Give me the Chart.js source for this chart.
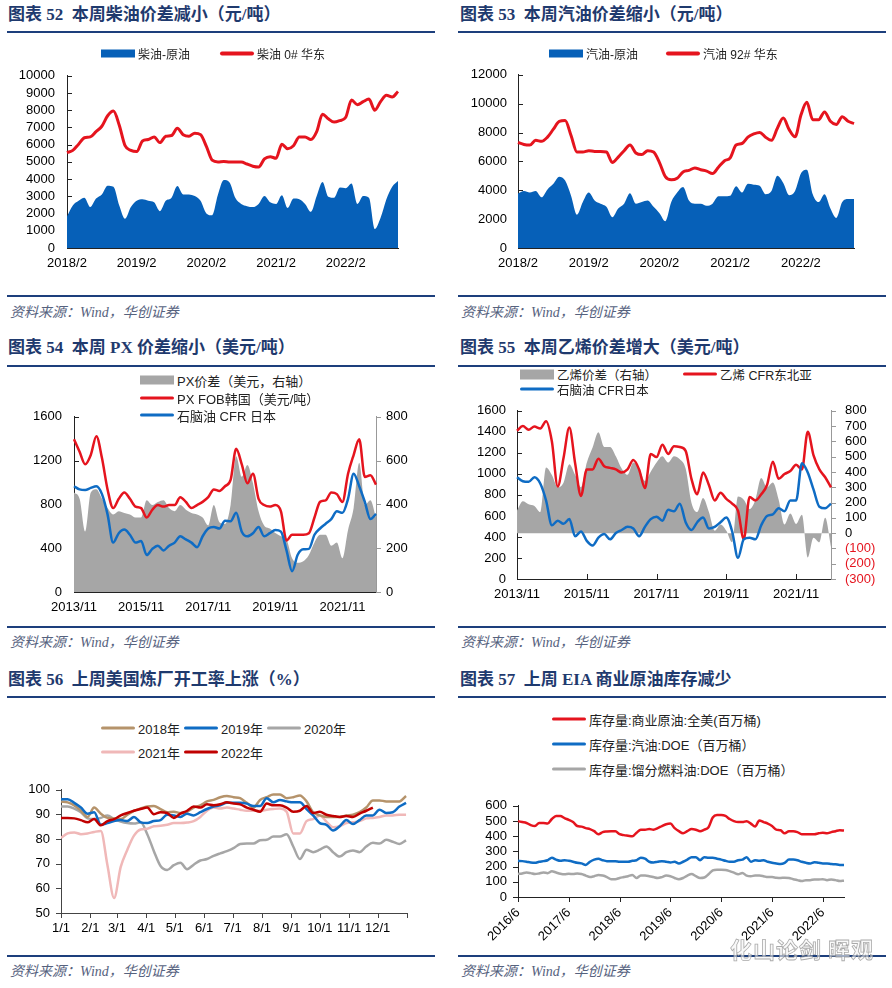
<!DOCTYPE html>
<html>
<head>
<meta charset="utf-8">
<script src="https://cdn.jsdelivr.net/npm/chart.js@4.4.1/dist/chart.umd.min.js"></script>
<style>
  body { margin: 0; background: #fff; }
  #page { position: relative; width: 892px; height: 988px; overflow: hidden; background: #fff; }
  #page canvas { position: absolute; }
  .ttl { position: absolute; font: bold 17px "Liberation Serif", "Noto Sans CJK SC", serif; color: #1f3a6e; line-height: 20px; white-space: nowrap; }
  .rule { position: absolute; height: 2px; background: #1d3f7c; }
  .src { position: absolute; font: italic 14px "Liberation Serif", "Noto Sans CJK SC", serif; color: #56627e; line-height: 18px; white-space: nowrap; }
  .lg { position: absolute; display: flex; align-items: center; transform: translateY(-50%); white-space: nowrap;
        font: 13px "Liberation Sans", "Noto Sans CJK SC", sans-serif; color: #222; z-index: 2; }
  .lg i { display: inline-block; width: 34px; margin-right: 3px; }
  .lg i.box { height: 8px; }
  .lg i.ln { height: 3px; border-radius: 2px; }
  .wm { position: absolute; left: 730px; top: 932px; font: bold 22px "Noto Sans CJK SC", sans-serif; color: rgba(245,245,245,0.6);
        -webkit-text-stroke: 0.8px rgba(150,150,150,0.8); white-space: nowrap; z-index: 3; letter-spacing: 1px; }
</style>
</head>
<body>
<div id="page">
  <!-- row 1 -->
  <div class="ttl" style="left:8px;top:5px">图表 52&nbsp; 本周柴油价差减小（元/吨）</div>
  <div class="ttl" style="left:460px;top:5px">图表 53&nbsp; 本周汽油价差缩小（元/吨）</div>
  <div class="rule" style="left:7px;width:428px;top:31px"></div>
  <div class="rule" style="left:458px;width:428px;top:31px"></div>
  <div class="lg" style="left:101px;top:53px;font-size:12px"><i class="box" style="background:#0660b8"></i>柴油-原油</div>
  <div class="lg" style="left:220px;top:53px;font-size:12px"><i class="ln" style="background:#e5141e;height:4px"></i>柴油 0# 华东</div>
  <div class="lg" style="left:549px;top:53px;font-size:12px"><i class="box" style="background:#0660b8"></i>汽油-原油</div>
  <div class="lg" style="left:666px;top:53px;font-size:12px"><i class="ln" style="background:#e5141e;height:4px"></i>汽油 92# 华东</div>
  <canvas id="c52" width="410" height="224" style="left:0;top:56px"></canvas>
  <canvas id="c53" width="420" height="224" style="left:446px;top:56px"></canvas>
  <div class="rule" style="left:7px;width:428px;top:295px"></div>
  <div class="rule" style="left:458px;width:428px;top:295px"></div>
  <div class="src" style="left:10px;top:304px">资料来源：Wind，华创证券</div>
  <div class="src" style="left:461px;top:304px">资料来源：Wind，华创证券</div>

  <!-- row 2 -->
  <div class="ttl" style="left:8px;top:338px">图表 54&nbsp; 本周 PX 价差缩小（美元/吨）</div>
  <div class="ttl" style="left:460px;top:338px">图表 55&nbsp; 本周乙烯价差增大（美元/吨）</div>
  <div class="rule" style="left:7px;width:428px;top:365px"></div>
  <div class="rule" style="left:458px;width:428px;top:365px"></div>
  <div class="lg" style="left:140px;top:380px"><i class="box" style="background:#a6a6a6;height:9px"></i>PX价差（美元，右轴）</div>
  <div class="lg" style="left:140px;top:398px"><i class="ln" style="background:#e5141e"></i>PX FOB韩国（美元/吨）</div>
  <div class="lg" style="left:140px;top:415px"><i class="ln" style="background:#0f6cc4"></i>石脑油 CFR 日本</div>
  <div class="lg" style="left:520px;top:374px;font-size:12.5px"><i class="box" style="background:#a6a6a6;height:10px"></i>乙烯价差（右轴）</div>
  <div class="lg" style="left:683px;top:374px;font-size:12.5px"><i class="ln" style="background:#e5141e"></i>乙烯 CFR东北亚</div>
  <div class="lg" style="left:520px;top:389px;font-size:12.5px"><i class="ln" style="background:#0f6cc4"></i>石脑油 CFR日本</div>
  <canvas id="c54" width="446" height="227" style="left:0;top:397px"></canvas>
  <canvas id="c55" width="446" height="222" style="left:446px;top:389px"></canvas>
  <div class="rule" style="left:7px;width:428px;top:626px"></div>
  <div class="rule" style="left:458px;width:428px;top:626px"></div>
  <div class="src" style="left:10px;top:634px">资料来源：Wind，华创证券</div>
  <div class="src" style="left:461px;top:634px">资料来源：Wind，华创证券</div>

  <!-- row 3 -->
  <div class="ttl" style="left:8px;top:670px">图表 56&nbsp; 上周美国炼厂开工率上涨（%）</div>
  <div class="ttl" style="left:460px;top:670px">图表 57&nbsp; 上周 EIA 商业原油库存减少</div>
  <div class="rule" style="left:7px;width:428px;top:696px"></div>
  <div class="rule" style="left:458px;width:428px;top:696px"></div>
  <div class="lg" style="left:101px;top:728px"><i class="ln" style="background:#b5936b"></i>2018年</div>
  <div class="lg" style="left:184px;top:728px"><i class="ln" style="background:#0f6cc4"></i>2019年</div>
  <div class="lg" style="left:267px;top:728px"><i class="ln" style="background:#a6a6a6"></i>2020年</div>
  <div class="lg" style="left:101px;top:752px"><i class="ln" style="background:#f0b8b8"></i>2021年</div>
  <div class="lg" style="left:184px;top:752px"><i class="ln" style="background:#c00000"></i>2022年</div>
  <div class="lg" style="left:552px;top:719px"><i class="ln" style="background:#e5141e"></i>库存量:商业原油:全美(百万桶)</div>
  <div class="lg" style="left:552px;top:744px"><i class="ln" style="background:#0f6cc4"></i>库存量:汽油:DOE（百万桶）</div>
  <div class="lg" style="left:552px;top:769px"><i class="ln" style="background:#a6a6a6"></i>库存量:馏分燃料油:DOE（百万桶）</div>
  <canvas id="c56" width="420" height="172" style="left:0;top:771px"></canvas>
  <canvas id="c57" width="420" height="165" style="left:446px;top:787px"></canvas>
  <div class="rule" style="left:7px;width:428px;top:955px"></div>
  <div class="rule" style="left:458px;width:428px;top:955px"></div>
  <div class="src" style="left:10px;top:963px">资料来源：Wind，华创证券</div>
  <div class="src" style="left:461px;top:963px">资料来源：Wind，华创证券</div>
  <div class="wm">化山论剑 晖观</div>
</div>

<script>
// ===== data =====
// chart 52: monthly, 2018/2 .. 2022/11
const dieselTicks = ['2018/2', '2019/2', '2020/2', '2021/2', '2022/2'];
const dieselSpread = [1830, 2470, 2740, 2920, 2380, 2870, 3110, 3620, 3560, 2470,
  1700, 2380, 2740, 2830, 2740, 2650, 2140, 2740, 2920, 3600,
  3110, 3110, 3020, 2740, 2010, 1900, 3100, 3950, 3800, 2900,
  2560, 2430, 2380, 2560, 3020, 2650, 2560, 3070, 2320, 2870,
  2830, 2560, 2100, 3020, 3840, 2980, 2920, 3510, 3470, 3750,
  2560, 3020, 2920, 1100, 1750, 2830, 3560, 3890];
const dieselPrice = [5540, 5670, 6030, 6400, 6450, 6760, 7070, 7680, 7950, 7130,
  5940, 5670, 5600, 6215, 6300, 6450, 6120, 6490, 6530, 6950,
  6580, 6490, 6670, 6580, 5900, 5100, 5000, 5030, 4990, 4990,
  4990, 4880, 4750, 4700, 5170, 5300, 5210, 6030, 5760, 5940,
  6450, 6450, 6300, 6760, 7770, 7500, 7310, 7400, 7590, 8590,
  8320, 8500, 8650, 8000, 8500, 8870, 8770, 9090];

// chart 53: monthly, 2018/2 .. 2022/11
const gasSpread = [3770, 3950, 3840, 3950, 3510, 4060, 4450, 4940, 4670, 3620,
  2300, 3180, 3840, 3290, 3070, 2850, 2130, 2740, 3070, 3800,
  3070, 3180, 3290, 2850, 2410, 1850, 3180, 3840, 4230, 3290,
  3070, 3070, 2920, 3070, 3580, 3580, 3620, 4280, 3840, 4450,
  4390, 4320, 3730, 3950, 5000, 4500, 3660, 3950, 5160, 5420,
  3730, 3180, 3730, 2740, 2080, 3180, 3400, 3400];
const gasPrice = [7310, 7170, 7130, 7460, 7390, 7680, 8230, 8780, 8840, 7790,
  6650, 6650, 6740, 6690, 6690, 6650, 5920, 6300, 6740, 7130,
  6580, 6470, 6740, 6650, 5920, 4940, 4720, 4830, 5270, 5380,
  5550, 5420, 5330, 5160, 5600, 6030, 6250, 7130, 7240, 7680,
  7900, 8010, 7680, 7460, 8300, 9000, 8200, 7700, 9210, 10090,
  8890, 8890, 9430, 8780, 8560, 9100, 8780, 8620];

// chart 54: every two months, 2013/11 .. 2022/11
const pxSpread = [454, 426, 276, 454, 469, 426, 383, 354, 369, 361,
  354, 340, 340, 419, 397, 411, 419, 383, 369, 397,
  376, 361, 354, 340, 304, 397, 319, 311, 397, 620,
  526, 580, 497, 369, 304, 290, 269, 254, 240, 154,
  133, 140, 169, 226, 261, 261, 211, 226, 154, 283,
  383, 590, 397, 419, 340];
const pxPrice = [1394, 1280, 1166, 1251, 1423, 1223, 937, 766, 851, 909,
  851, 780, 766, 680, 751, 794, 780, 794, 794, 866,
  823, 766, 794, 823, 866, 937, 923, 966, 1023, 1308,
  1166, 994, 1080, 851, 794, 780, 794, 737, 470, 523,
  523, 523, 537, 680, 823, 837, 909, 894, 823, 1080,
  1251, 1394, 1051, 1066, 980];
const pxNaphtha = [966, 937, 931, 951, 966, 894, 709, 451, 537, 571,
  523, 451, 466, 337, 394, 423, 380, 423, 451, 509,
  480, 451, 409, 509, 580, 594, 580, 651, 646, 723,
  551, 509, 537, 594, 509, 537, 566, 551, 380, 190,
  340, 390, 394, 523, 580, 623, 666, 737, 723, 851,
  1080, 966, 823, 666, 714];

// chart 55: every two months, 2013/11 .. 2022/11
const ethSpread = [148, 209, 189, 178, 138, 430, 380, 300, 330, 450,
  380, 300, 460, 560, 660, 564, 564, 503, 422, 381,
  462, 422, 341, 402, 462, 503, 462, 503, 483, 422,
  199, 138, 229, 138, 16, 57, 16, -60, 240, 219,
  158, 219, 361, 300, 331, 219, 57, 128, 60, 120,
  -160, -30, -60, 100, -90];
const ethPrice = [1411, 1455, 1420, 1450, 1432, 1500, 1308, 880, 1150, 1440,
  1100, 790, 1042, 1042, 1145, 1072, 1057, 1042, 1013, 1042,
  1131, 1042, 865, 1190, 1160, 1278, 1190, 1263, 1255, 1219,
  953, 806, 1013, 894, 747, 820, 762, 717, 650, 380,
  780, 747, 806, 894, 1116, 953, 998, 1027, 1086, 1042,
  1400, 1175, 1042, 968, 871];
const ethNaphtha = [968, 930, 924, 968, 909, 747, 511, 555, 525, 570,
  407, 452, 363, 319, 393, 428, 378, 437, 466, 496,
  481, 407, 496, 570, 593, 555, 658, 644, 717, 540,
  466, 540, 584, 481, 496, 540, 584, 452, 201, 378,
  393, 378, 511, 599, 614, 673, 644, 747, 747, 1101,
  1013, 850, 688, 673, 717];

// chart 56: weekly utilisation (%), week 1 = 1/1
const monthStarts = [0, 31, 59, 90, 120, 151, 181, 212, 243, 273, 304, 334, 365];
const monthTicks = ['1/1', '2/1', '3/1', '4/1', '5/1', '6/1', '7/1', '8/1', '9/1', '10/1', '11/1', '12/1', ''];
const util2018 = [95.3, 94.9, 93.7, 91.5, 89.0, 92.8, 90.3, 88.6, 88.4, 88.1, 89.9, 91.5, 92.4, 93.2, 93.4, 92.2, 90.9, 91.1,
  90.6, 91.1, 92.8, 93.7, 95.3, 95.9, 97.0, 97.5, 97.0, 96.6, 94.7, 92.8, 95.9, 97.0, 98.1, 98.1, 96.6, 97.0, 97.7, 95.3,
  90.9, 89.6, 89.0, 89.0, 89.0, 89.6, 89.9, 90.9, 92.8, 95.7, 95.7, 95.3, 95.3, 95.3, 97.5];
const util2019 = [96.2, 96.2, 94.7, 92.8, 90.3, 90.9, 85.8, 86.5, 87.3, 87.7, 87.3, 89.0, 86.8, 86.5, 87.3, 87.7, 89.9, 89.6,
  89.0, 90.3, 89.6, 90.9, 92.2, 93.2, 93.7, 94.7, 94.7, 94.7, 94.4, 93.4, 93.4, 96.6, 94.9, 95.9, 95.3, 94.9, 94.9, 92.2,
  89.6, 86.5, 85.8, 83.5, 85.2, 87.7, 86.1, 87.7, 89.6, 89.6, 91.9, 90.6, 90.9, 93.2, 94.7];
const util2020 = [93.2, 93.2, 92.4, 90.9, 88.4, 88.1, 88.6, 89.6, 88.1, 87.1, 86.5, 86.3, 86.8, 82.0, 75.1, 69.1, 67.5, 69.4,
  70.4, 67.8, 69.6, 71.3, 71.9, 73.2, 74.2, 75.1, 76.3, 78.0, 78.2, 78.2, 79.5, 79.7, 81.0, 81.0, 82.0, 77.0, 71.9, 75.7,
  74.7, 75.7, 77.0, 74.7, 72.9, 74.7, 75.4, 74.7, 77.0, 78.5, 78.2, 79.7, 78.9, 78.0, 79.5];
const util2021 = [80.5, 82.3, 82.7, 82.0, 82.3, 82.9, 83.3, 69.4, 56.1, 68.7, 75.7, 81.4, 83.9, 84.2, 85.2, 85.4, 85.8, 86.5,
  86.5, 86.7, 87.3, 89.0, 91.5, 92.8, 92.4, 92.8, 92.4, 91.9, 91.5, 91.5, 91.5, 91.9, 92.2, 92.4, 91.1, 82.3, 82.3, 87.3,
  88.1, 89.6, 87.1, 84.8, 85.2, 86.5, 86.8, 87.3, 88.4, 88.6, 89.0, 89.6, 89.6, 89.9, 89.9];
const util2022 = [88.6, 88.6, 88.4, 87.7, 86.8, 88.1, 85.6, 87.3, 88.1, 89.6, 90.6, 91.5, 92.2, 92.8, 90.1, 90.9, 90.6, 88.6,
  90.3, 91.5, 93.2, 92.8, 94.1, 93.7, 94.1, 94.9, 94.4, 94.1, 92.8, 91.9, 91.1, 94.4, 93.7, 93.7, 92.8, 91.1, 91.5, 93.4,
  90.6, 91.1, 89.9, 89.4, 89.0, 89.4, 89.0, 90.3, 91.5, 92.8];

// chart 57: monthly, 2016/6 .. 2022/11 (million barrels)
const stockCrude = [499, 493, 487, 473, 467, 487, 487, 483, 513, 533,
  533, 519, 507, 493, 467, 463, 453, 447, 433, 413,
  427, 431, 433, 433, 413, 407, 403, 399, 423, 443,
  443, 447, 443, 453, 467, 479, 483, 453, 433, 419,
  433, 447, 443, 433, 443, 459, 523, 539, 539, 533,
  513, 499, 493, 493, 499, 483, 463, 503, 493, 483,
  467, 443, 439, 419, 433, 433, 427, 413, 413, 413,
  413, 419, 423, 419, 427, 433, 439, 437];
const stockGasoline = [238, 236, 232, 227, 225, 232, 236, 242, 258, 246,
  238, 242, 238, 232, 225, 221, 211, 232, 246, 252,
  242, 236, 236, 236, 232, 232, 232, 238, 242, 258,
  252, 232, 227, 232, 236, 232, 227, 232, 221, 232,
  246, 262, 262, 242, 262, 258, 258, 252, 246, 238,
  232, 232, 242, 246, 262, 232, 242, 238, 242, 232,
  225, 221, 217, 225, 246, 246, 242, 232, 225, 221,
  229, 225, 221, 221, 217, 215, 211, 211];
const stockDistillate = [151, 155, 161, 157, 151, 155, 161, 157, 169, 161,
  153, 149, 153, 151, 155, 151, 141, 131, 137, 145,
  141, 131, 117, 117, 125, 131, 137, 145, 125, 141,
  141, 137, 131, 125, 131, 141, 137, 125, 117, 125,
  141, 151, 137, 125, 128, 150, 175, 180, 180, 178,
  170, 160, 150, 158, 141, 137, 141, 141, 137, 131,
  131, 127, 125, 127, 125, 117, 111, 105, 111, 111,
  115, 115, 117, 111, 115, 111, 105, 107];

// ===== helpers =====
function monthLabels(year, month, count, step) {
  const out = [];
  for (let i = 0; i < count; i++) {
    out.push(year + '/' + month);
    month += step;
    while (month > 12) { month -= 12; year++; }
  }
  return out;
}

// small tick marks drawn on the scales (inside or outside the plot)
const tickMarks = {
  id: 'tickMarks',
  beforeDatasetsDraw(chart, args, opts) {
    const { ctx, chartArea } = chart;
    (opts.list || []).forEach(([id, dir, color]) => {
      const s = chart.scales[id];
      const len = dir === 'in' ? 5 : -5;
      ctx.save();
      ctx.strokeStyle = color || '#222';
      ctx.lineWidth = 1;
      ctx.beginPath();
      s.ticks.forEach((t, i) => {
        if (t.label === null || t.label === undefined) return;
        const p = Math.round(s.getPixelForTick(i)) + 0.5;
        if (s.axis === 'x') {
          ctx.moveTo(p, chartArea.bottom);
          ctx.lineTo(p, chartArea.bottom - len);
        } else if (s.position === 'left') {
          ctx.moveTo(chartArea.left, p);
          ctx.lineTo(chartArea.left + len, p);
        } else {
          ctx.moveTo(chartArea.right, p);
          ctx.lineTo(chartArea.right - len, p);
        }
      });
      ctx.stroke();
      ctx.restore();
    });
  }
};
Chart.register(tickMarks);

Chart.defaults.font.family = '"Liberation Sans", Arial, sans-serif';
Chart.defaults.font.size = 13;
Chart.defaults.color = '#000';
Chart.defaults.animation = false;
Chart.defaults.responsive = false;
Chart.defaults.devicePixelRatio = 1;
Chart.defaults.plugins.legend.display = false;
Chart.defaults.plugins.tooltip.enabled = false;
Chart.defaults.elements.point.radius = 0;
Chart.defaults.elements.line.cubicInterpolationMode = 'monotone';
Chart.defaults.elements.line.borderJoinStyle = 'round';

function yAxis(width, min, max, step, pad, extra) {
  return Object.assign({
    position: 'left', min, max,
    afterFit: s => { s.width = width; },
    ticks: { stepSize: step, padding: pad, maxTicksLimit: 20, autoSkip: false, callback: v => String(v) },
    grid: { display: false, drawTicks: false },
    border: { display: true, color: '#222' },
    z: 1
  }, extra || {});
}

function xCat(height, every, pad, extra) {
  return Object.assign({
    type: 'category', offset: false,
    afterFit: s => { s.height = height; },
    ticks: {
      autoSkip: false, maxRotation: 0, minRotation: 0, padding: pad,
      callback: function (v, i) { return i % every === 0 ? this.getLabelForValue(v) : null; }
    },
    grid: { display: false, drawTicks: false },
    border: { display: true, color: '#222' },
    z: 1
  }, extra || {});
}

function areaSet(data, color, axis) {
  return { data, backgroundColor: color, borderWidth: 0, fill: 'origin', order: 5, yAxisID: axis || 'y' };
}
function lineSet(data, color, width, order, axis) {
  return { data, borderColor: color, borderWidth: width, fill: false, order, yAxisID: axis || 'y' };
}

// ===== chart 52 =====
new Chart(document.getElementById('c52'), {
  type: 'line',
  data: {
    labels: monthLabels(2018, 2, dieselPrice.length, 1),
    datasets: [lineSet(dieselPrice, '#e5141e', 3, 0), areaSet(dieselSpread, '#0660b8')]
  },
  options: {
    layout: { padding: { top: 10, right: 12 } },
    scales: { x: xCat(32, 12, 8), y: yAxis(67, 0, 10000, 1000, 12) },
    plugins: { tickMarks: { list: [['x', 'in'], ['y', 'in']] } }
  }
});

// ===== chart 53 =====
new Chart(document.getElementById('c53'), {
  type: 'line',
  data: {
    labels: monthLabels(2018, 2, gasPrice.length, 1),
    datasets: [lineSet(gasPrice, '#e5141e', 3, 0), areaSet(gasSpread, '#0660b8')]
  },
  options: {
    layout: { padding: { top: 10, right: 12 } },
    scales: { x: xCat(32, 12, 8), y: yAxis(72, 0, 12000, 2000, 11) },
    plugins: { tickMarks: { list: [['x', 'in'], ['y', 'in']] } }
  }
});

// ===== chart 54 =====
new Chart(document.getElementById('c54'), {
  type: 'line',
  data: {
    labels: monthLabels(2013, 11, pxPrice.length, 2),
    datasets: [
      lineSet(pxNaphtha, '#0f6cc4', 2.5, 0),
      lineSet(pxPrice, '#e5141e', 2.5, 1),
      areaSet(pxSpread, '#a6a6a6', 'y2')
    ]
  },
  options: {
    layout: { padding: { top: 10 } },
    scales: {
      x: xCat(32, 12, 8),
      y: yAxis(74, 0, 1600, 400, 12),
      y2: yAxis(70, 0, 800, 200, 10, { position: 'right', border: { display: true, color: '#999' } })
    },
    plugins: { tickMarks: { list: [['x', 'in'], ['y', 'in'], ['y2', 'out', '#999']] } }
  }
});

// ===== chart 55 =====
new Chart(document.getElementById('c55'), {
  type: 'line',
  data: {
    labels: monthLabels(2013, 11, ethPrice.length, 2),
    datasets: [
      lineSet(ethNaphtha, '#0f6cc4', 2.5, 0),
      lineSet(ethPrice, '#e5141e', 2.5, 1),
      areaSet(ethSpread, '#a6a6a6', 'y2')
    ]
  },
  options: {
    layout: { padding: { top: 10 } },
    scales: {
      x: xCat(32, 12, 8),
      y: yAxis(71, 0, 1600, 200, 11),
      y2: yAxis(61, -300, 800, 100, 14, {
        position: 'right',
        border: { display: true, color: '#999' },
        ticks: {
          stepSize: 100, padding: 14, maxTicksLimit: 20, autoSkip: false,
          color: c => c.tick && c.tick.value < 0 ? '#e5141e' : '#000',
          callback: v => v < 0 ? '(' + (-v) + ')' : String(v)
        }
      })
    },
    plugins: { tickMarks: { list: [['x', 'in'], ['y', 'in'], ['y2', 'out', '#999']] } }
  }
});

// ===== chart 56 =====
const toWeeks = arr => arr.map((v, i) => ({ x: i * 7, y: v }));
new Chart(document.getElementById('c56'), {
  type: 'line',
  data: {
    datasets: [
      lineSet(toWeeks(util2022), '#c00000', 2.5, 0),
      lineSet(toWeeks(util2019), '#0f6cc4', 2.5, 1),
      lineSet(toWeeks(util2018), '#b5936b', 2.5, 2),
      lineSet(toWeeks(util2021), '#f0b8b8', 2.5, 3),
      lineSet(toWeeks(util2020), '#a6a6a6', 2.5, 4)
    ]
  },
  options: {
    layout: { padding: { top: 10, right: 13 } },
    scales: {
      x: {
        type: 'linear', min: 0, max: 365,
        afterFit: s => { s.height = 30; },
        afterBuildTicks: s => { s.ticks = monthStarts.map(v => ({ value: v })); },
        ticks: { padding: 8, maxRotation: 0, autoSkip: false, callback: v => monthTicks[monthStarts.indexOf(v)] },
        grid: { display: false, drawTicks: false },
        border: { display: true, color: '#444' },
        z: 1
      },
      y: yAxis(61, 50, 100, 10, 11, { border: { display: true, color: '#444' } })
    },
    plugins: { tickMarks: { list: [['x', 'out', '#444'], ['y', 'out', '#444']] } }
  }
});

// ===== chart 57 =====
new Chart(document.getElementById('c57'), {
  type: 'line',
  data: {
    labels: monthLabels(2016, 6, stockCrude.length, 1),
    datasets: [
      lineSet(stockCrude, '#e5141e', 2.5, 0),
      lineSet(stockGasoline, '#0f6cc4', 2.5, 1),
      lineSet(stockDistillate, '#a6a6a6', 2.5, 2)
    ]
  },
  options: {
    layout: { padding: { top: 10, right: 22 } },
    scales: {
      x: xCat(55, 12, 8, {
        ticks: {
          autoSkip: false, maxRotation: 45, minRotation: 45, padding: 8,
          callback: function (v, i) { return i % 12 === 0 ? this.getLabelForValue(v) : null; }
        }
      }),
      y: yAxis(72, 0, 600, 100, 11)
    },
    plugins: { tickMarks: { list: [['x', 'out'], ['y', 'out']] } }
  }
});
</script>
</body>
</html>
